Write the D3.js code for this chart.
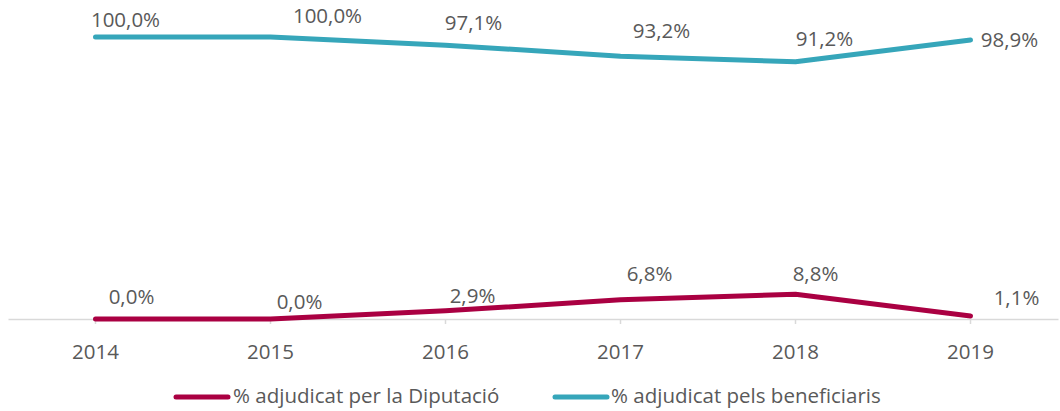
<!DOCTYPE html>
<html><head><meta charset="utf-8">
<script src="https://cdn.jsdelivr.net/npm/d3@7"></script>
<style>body{margin:0;background:#fff;} text{font-family:"Open Sans",sans-serif;fill:#595959;}</style>
</head><body>
<svg id="c" width="1060" height="411"></svg>
<script>
const years = ["2014","2015","2016","2017","2018","2019"];
const diputacio = [0.0, 0.0, 2.9, 6.8, 8.8, 1.1];
const beneficiaris = [100.0, 100.0, 97.1, 93.2, 91.2, 98.9];
const seriesNames = ["% adjudicat per la Diputació", "% adjudicat pels beneficiaris"];
const colors = ["#AA0042", "#36A6BA"];
// label offsets (layout, px) relative to each point
const offDip = [[36,-22],[29,-17],[27,-15],[29,-26],[20,-20],[46,-18]];
const offBen = [[30,-17],[57,-21],[28,-22],[41,-25],[29,-23],[39,0]];

const svg = d3.select("#c");
const x = d3.scaleBand().domain(years).range([8,1058]);
const y = d3.scaleLinear().domain([0,100]).range([319,37]);
const cx = d => x(d) + x.bandwidth()/2;
const FS = "20.5px";

// axis
const ax = svg.append("g").attr("transform","translate(0,319)")
  .call(d3.axisBottom(x).tickSize(5).tickSizeOuter(0));
ax.select(".domain").attr("stroke","#d9d9d9").attr("stroke-width",1.5);
ax.selectAll(".tick line").attr("stroke","#d9d9d9").attr("stroke-width",1.5);
ax.selectAll(".tick text").style("font-size",FS).attr("fill","#595959")
  .attr("y",33).attr("dy","0.35em");

const fmt = v => v.toFixed(1).replace(".",",") + "%";
const line = d3.line().x((d,i)=>cx(years[i])).y(d=>y(d));

[[diputacio,offDip],[beneficiaris,offBen]].forEach(([vals,off],k)=>{
  svg.append("path").datum(vals).attr("d",line).attr("fill","none")
    .attr("stroke",colors[k]).attr("stroke-width",5).attr("stroke-linecap","round").attr("stroke-linejoin","round");
  svg.append("g").selectAll("text").data(vals).join("text")
    .attr("x",(d,i)=>cx(years[i])+off[i][0]).attr("y",(d,i)=>y(d)+off[i][1])
    .attr("text-anchor","middle").attr("dy","0.35em")
    .style("font-size",FS).text(fmt);
});

// legend
const lg = [[176,233],[555,611]];
seriesNames.forEach((n,k)=>{
  svg.append("line").attr("x1",lg[k][0]).attr("x2",lg[k][0]+52).attr("y1",397).attr("y2",397)
    .attr("stroke",colors[k]).attr("stroke-width",5).attr("stroke-linecap","round");
  svg.append("text").attr("x",lg[k][1]).attr("y",396).attr("dy","0.35em")
    .style("font-size",FS).text(n);
});
</script>
</body></html>
